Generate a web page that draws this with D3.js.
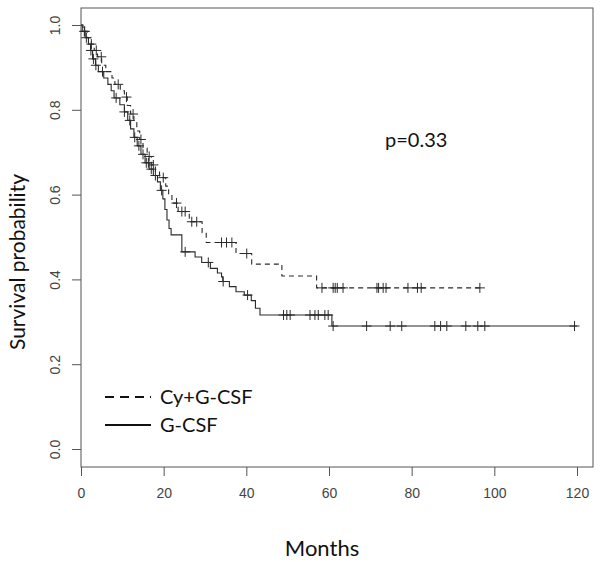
<!DOCTYPE html>
<html>
<head>
<meta charset="utf-8">
<script src="https://cdn.jsdelivr.net/npm/d3@7"></script>
<style>
  html, body { margin: 0; padding: 0; background: #fff; }
  svg { display: block; }
</style>
</head>
<body>
<svg id="chart" width="602" height="562"></svg>
<script>
// ---- Data ----
const xTicks = [0, 20, 40, 60, 80, 100, 120];
const yTicks = [0.0, 0.2, 0.4, 0.6, 0.8, 1.0];
const seriesNames = ["Cy+G-CSF", "G-CSF"];
const pValueLabel = "p=0.33";

// Cy+G-CSF (dashed): event times and survival after each event
const cyTimes = [0.5, 1.5, 2.5, 3.2, 4.0, 5.0, 6.0, 7.5, 8.2, 9.5, 10.5, 11.2, 12.0, 12.8, 13.5, 14.2, 15.0, 16.0, 17.0, 18.0, 19.0, 20.5, 21.2, 22.0, 23.5, 26.2, 29.3, 30.3, 37.5, 41.3, 48.6, 57.0];
const cySurv  = [0.985, 0.97, 0.955, 0.94, 0.925, 0.905, 0.89, 0.875, 0.86, 0.845, 0.83, 0.81, 0.79, 0.77, 0.75, 0.73, 0.71, 0.69, 0.67, 0.655, 0.64, 0.62, 0.60, 0.58, 0.56, 0.536, 0.51, 0.487, 0.461, 0.436, 0.408, 0.380];
const cyEnd = 96.5;
const cyCensor = [0.9, 2.5, 3.7, 4.9, 9.0, 11.0, 12.6, 14.5, 16.5, 17.5, 19.9, 23.1, 24.4, 25.2, 26.8, 28.0, 34.0, 35.2, 36.5, 40.1, 58.3, 61.0, 61.5, 62.0, 63.4, 71.6, 72.0, 73.1, 73.8, 79.1, 81.4, 82.3, 96.5];

// G-CSF (solid)
const gTimes = [0.3, 1.0, 1.8, 2.3, 2.8, 3.5, 4.2, 5.5, 6.5, 7.3, 8.0, 9.4, 10.5, 11.3, 12.0, 12.8, 13.6, 14.5, 15.5, 16.5, 17.5, 18.5, 19.2, 19.8, 20.3, 20.8, 21.3, 21.8, 24.4, 27.6, 29.2, 31.3, 33.0, 34.0, 34.3, 35.9, 37.5, 39.5, 41.2, 42.2, 43.3, 60.7];
const gSurv  = [0.985, 0.97, 0.955, 0.94, 0.92, 0.905, 0.89, 0.875, 0.86, 0.845, 0.828, 0.812, 0.795, 0.775, 0.755, 0.735, 0.715, 0.695, 0.675, 0.66, 0.645, 0.63, 0.61, 0.59, 0.565, 0.54, 0.52, 0.505, 0.465, 0.453, 0.44, 0.426, 0.415, 0.406, 0.395, 0.383, 0.371, 0.363, 0.35, 0.332, 0.316, 0.29];
const gEnd = 120.0;
const gCensor = [0.8, 1.3, 2.4, 3.0, 3.6, 5.2, 8.5, 10.5, 11.8, 13.0, 14.0, 15.0, 15.8, 16.3, 17.0, 18.0, 19.5, 25.2, 30.8, 34.4, 40.3, 49.0, 49.8, 50.6, 55.4, 56.6, 57.4, 59.0, 59.8, 61.0, 69.1, 74.8, 77.6, 85.6, 87.0, 88.5, 93.1, 96.0, 97.7, 119.4];

// ---- Layout ----
const svg = d3.select("#chart");
const box = {left: 81, right: 593, top: 8, bottom: 467};
const x = d3.scaleLinear().domain([0, 120]).range([81, 577]);
const y = d3.scaleLinear().domain([0, 1]).range([449, 25]);

const axisColor = "#555";
const lineColor = "#2a2a2a";

// plot box
svg.append("rect")
  .attr("x", box.left).attr("y", box.top)
  .attr("width", box.right - box.left).attr("height", box.bottom - box.top)
  .attr("fill", "none").attr("stroke", axisColor).attr("stroke-width", 1);

// x axis
const xAxis = d3.axisBottom(x).tickValues(xTicks).tickSize(9).tickPadding(12).tickFormat(d3.format("d"));
const gx = svg.append("g").attr("transform", `translate(0,${box.bottom})`).call(xAxis);
gx.select(".domain").remove();
gx.selectAll("line").attr("stroke", axisColor);
gx.selectAll("text").attr("fill", "#444").style("font-family", "Liberation Sans, Arial, sans-serif").style("font-size", "14px");

// y axis
const yAxis = d3.axisLeft(y).tickValues(yTicks).tickSize(9).tickFormat(d3.format(".1f"));
const gy = svg.append("g").attr("transform", `translate(${box.left},0)`).call(yAxis);
gy.select(".domain").remove();
gy.selectAll("line").attr("stroke", axisColor);
gy.selectAll("text")
  .attr("fill", "#444")
  .style("font-family", "Liberation Sans, Arial, sans-serif").style("font-size", "14px")
  .attr("text-anchor", "middle")
  .attr("x", 0).attr("dy", null)
  .attr("transform", "translate(-26,0) rotate(-90)")
  .attr("dominant-baseline", "central");

// axis titles
svg.append("text")
  .attr("x", 322).attr("y", 556)
  .attr("text-anchor", "middle")
  .style("font-family", "Lato, 'Open Sans', sans-serif").style("font-size", "22px")
  .attr("fill", "#111")
  .text("Months");
svg.append("text")
  .attr("transform", "translate(25,262) rotate(-90)")
  .attr("text-anchor", "middle")
  .style("font-family", "Lato, 'Open Sans', sans-serif").style("font-size", "21px")
  .attr("fill", "#111")
  .text("Survival probability");

// p value
svg.append("text")
  .attr("x", 385).attr("y", 147)
  .style("font-family", "Lato, 'Open Sans', sans-serif").style("font-size", "20px")
  .attr("fill", "#111")
  .text(pValueLabel);

// ---- Survival curves ----
function stepPoints(times, surv, end) {
  const pts = [[0, 1]];
  times.forEach((t, i) => pts.push([t, surv[i]]));
  pts.push([end, surv[surv.length - 1]]);
  return pts;
}
function survAt(times, surv, t) {
  let s = 1;
  for (let i = 0; i < times.length; i++) { if (times[i] <= t) s = surv[i]; }
  return s;
}
const line = d3.line().x(d => x(d[0])).y(d => y(d[1])).curve(d3.curveStepAfter);

const groups = [
  {times: cyTimes, surv: cySurv, end: cyEnd, censor: cyCensor, dash: "5,4"},
  {times: gTimes, surv: gSurv, end: gEnd, censor: gCensor, dash: null}
];

groups.forEach(g => {
  svg.append("path")
    .datum(stepPoints(g.times, g.surv, g.end))
    .attr("d", line)
    .attr("fill", "none")
    .attr("stroke", lineColor)
    .attr("stroke-width", 1.1)
    .attr("stroke-dasharray", g.dash);
  const cs = svg.append("g");
  g.censor.forEach(t => {
    const cx = x(t), cy = y(survAt(g.times, g.surv, t));
    cs.append("line").attr("x1", cx - 5).attr("x2", cx + 5).attr("y1", cy).attr("y2", cy)
      .attr("stroke", lineColor).attr("stroke-width", 1);
    cs.append("line").attr("x1", cx).attr("x2", cx).attr("y1", cy - 5).attr("y2", cy + 5)
      .attr("stroke", lineColor).attr("stroke-width", 1);
  });
});

// ---- Legend ----
const legend = svg.append("g");
const legendItems = [
  {name: seriesNames[0], dash: "9,6", y: 397},
  {name: seriesNames[1], dash: null, y: 425}
];
legendItems.forEach(d => {
  legend.append("line")
    .attr("x1", 105).attr("x2", 151).attr("y1", d.y).attr("y2", d.y)
    .attr("stroke", "#111").attr("stroke-width", 2.2)
    .attr("stroke-dasharray", d.dash);
  legend.append("text")
    .attr("x", 160).attr("y", d.y + 7)
    .style("font-family", "Lato, 'Open Sans', sans-serif").style("font-size", "20px")
    .attr("fill", "#111")
    .text(d.name);
});
</script>
</body>
</html>
